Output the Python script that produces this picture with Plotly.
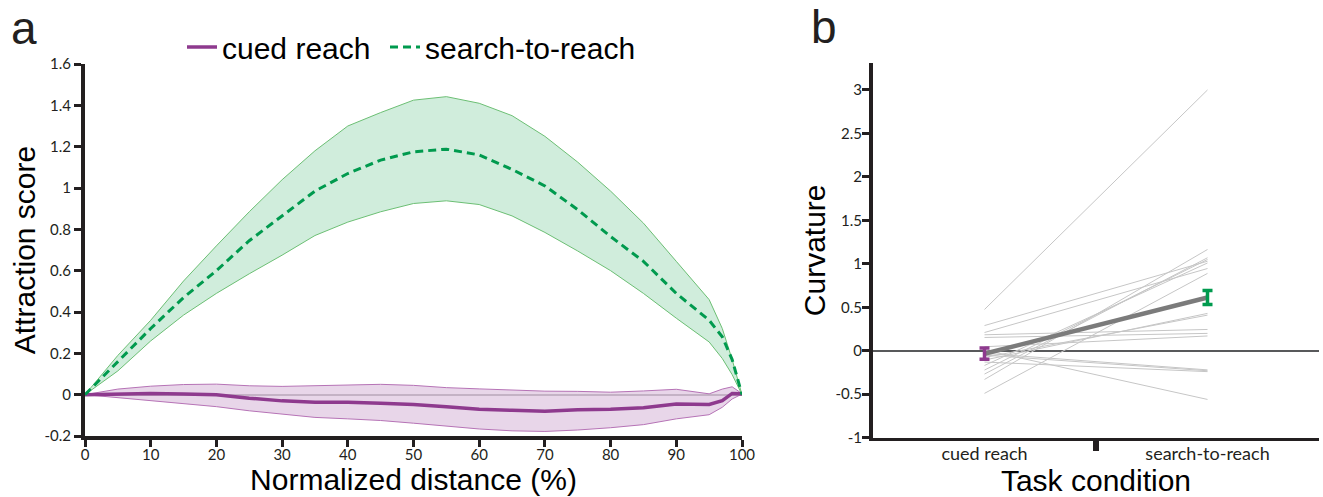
import plotly.graph_objects as go

# ---------------- Panel a data ----------------
dist = [0, 5, 10, 15, 20, 25, 30, 35, 40, 45, 50, 55, 60, 65, 70, 75, 80, 85, 90, 95, 97, 98.5, 100]

search_mean = [0, 0.16, 0.32, 0.47, 0.60, 0.745, 0.865, 0.985, 1.07, 1.135, 1.175, 1.188, 1.16, 1.09,
               1.01, 0.895, 0.765, 0.645, 0.49, 0.36, 0.28, 0.17, 0.0]
search_upper = [0, 0.19, 0.36, 0.55, 0.72, 0.885, 1.04, 1.18, 1.30, 1.365, 1.425, 1.442, 1.41, 1.35,
                1.25, 1.125, 0.985, 0.83, 0.645, 0.46, 0.32, 0.17, 0.0]
search_lower = [0, 0.115, 0.26, 0.385, 0.49, 0.585, 0.675, 0.77, 0.835, 0.885, 0.925, 0.938, 0.92, 0.865,
                0.785, 0.695, 0.60, 0.49, 0.37, 0.255, 0.175, 0.097, 0.0]

cued_mean = [0, 0.005, 0.006, 0.003, 0.0, -0.017, -0.03, -0.037, -0.037, -0.042, -0.047, -0.058, -0.07,
             -0.076, -0.08, -0.073, -0.071, -0.063, -0.045, -0.047, -0.029, 0.006, 0.004]
cued_upper = [0, 0.027, 0.041, 0.049, 0.051, 0.043, 0.04, 0.043, 0.048, 0.05, 0.045, 0.034, 0.028,
              0.022, 0.017, 0.016, 0.012, 0.018, 0.026, 0.004, 0.027, 0.038, 0.005]
cued_lower = [0, -0.015, -0.031, -0.046, -0.058, -0.078, -0.094, -0.11, -0.117, -0.125, -0.138, -0.151,
              -0.166, -0.175, -0.178, -0.171, -0.16, -0.145, -0.117, -0.097, -0.061, -0.021, 0.003]

a_yticks = [-0.2, 0, 0.2, 0.4, 0.6, 0.8, 1.0, 1.2, 1.4, 1.6]
a_yticktext = ["-0.2", "0", "0.2", "0.4", "0.6", "0.8", "1", "1.2", "1.4", "1.6"]
a_xticks = [0, 10, 20, 30, 40, 50, 60, 70, 80, 90, 100]

# ---------------- Panel b data ----------------
conditions = ["cued reach", "search-to-reach"]
subj_cued = [0.475, 0.29, 0.21, 0.184, 0.153, 0.046, -0.49, -0.33, -0.268, -0.222, -0.169,
             -0.107, -0.077, 0.008, -0.03, -0.05, -0.13]
subj_search = [3.0, 1.03, 0.946, 0.245, 0.20, 0.17, 0.89, 1.165, 1.07, 1.05, 1.01,
               0.43, 0.41, -0.56, -0.22, -0.23, -0.24]
group_mean = [-0.034, 0.613]
group_sem = [0.065, 0.08]
b_yticks = [-1, -0.5, 0, 0.5, 1, 1.5, 2, 2.5, 3]
b_yticktext = ["-1", "-0.5", "0", "0.5", "1", "1.5", "2", "2.5", "3"]

PURPLE = "#8e3a8e"
PURPLE_FILL = "rgba(222,196,224,0.7)"
PURPLE_EDGE = "#b673b6"
GREEN = "#009a4e"
GREEN_FILL = "rgba(196,232,211,0.8)"
GREEN_EDGE = "#6cbf74"
AX = "#231f20"

fig = go.Figure()

# green band
fig.add_trace(go.Scatter(x=dist, y=search_upper, mode="lines", line=dict(color=GREEN_EDGE, width=1),
                         showlegend=False, hoverinfo="skip", xaxis="x", yaxis="y"))
fig.add_trace(go.Scatter(x=dist, y=search_lower, mode="lines", line=dict(color=GREEN_EDGE, width=1),
                         fill="tonexty", fillcolor=GREEN_FILL, showlegend=False, hoverinfo="skip",
                         xaxis="x", yaxis="y"))
# purple band
fig.add_trace(go.Scatter(x=dist, y=cued_upper, mode="lines", line=dict(color=PURPLE_EDGE, width=1),
                         showlegend=False, hoverinfo="skip", xaxis="x", yaxis="y"))
fig.add_trace(go.Scatter(x=dist, y=cued_lower, mode="lines", line=dict(color=PURPLE_EDGE, width=1),
                         fill="tonexty", fillcolor=PURPLE_FILL, showlegend=False, hoverinfo="skip",
                         xaxis="x", yaxis="y"))
# means
fig.add_trace(go.Scatter(x=dist, y=cued_mean, mode="lines", name="cued reach", legend="legend",
                         line=dict(color=PURPLE, width=3.5), xaxis="x", yaxis="y"))
fig.add_trace(go.Scatter(x=dist, y=search_mean, mode="lines", name="search-to-reach", legend="legend2",
                         line=dict(color=GREEN, width=3, dash="8px,5px"), xaxis="x", yaxis="y"))

# panel b: individual subjects
for c, s in zip(subj_cued, subj_search):
    fig.add_trace(go.Scatter(x=[1, 2], y=[c, s], mode="lines", line=dict(color="#c6c6c6", width=1),
                             showlegend=False, hoverinfo="skip", xaxis="x2", yaxis="y2"))
# group mean line
fig.add_trace(go.Scatter(x=[1, 2], y=group_mean, mode="lines", line=dict(color="#7b7b7b", width=4.5),
                         showlegend=False, xaxis="x2", yaxis="y2"))
# error bars
for i, col in enumerate([PURPLE, GREEN]):
    fig.add_trace(go.Scatter(x=[i + 1], y=[group_mean[i]], mode="markers",
                             marker=dict(size=1, color="rgba(0,0,0,0)"),
                             error_y=dict(type="data", array=[group_sem[i]], color=col, thickness=3.5, width=5),
                             showlegend=False, xaxis="x2", yaxis="y2"))

# the page body margin is removed (see post_script), so the figure fills the window
W, H = 1323, 497


def fx(px):
    return px / W


def fy(py):
    return 1 - py / H


tickfont = dict(family="Lato, Open Sans, sans-serif", size=15, color=AX)
titlefont = dict(family="Liberation Sans, Arial, sans-serif", size=30, color="black")
legfont = dict(family="Liberation Sans, Arial, sans-serif", size=30, color="black")
panelfont = dict(family="Liberation Sans, Arial, sans-serif", size=46, color="#231f20")

fig.update_layout(
    width=W, height=H,
    margin=dict(l=0, r=0, t=0, b=0),
    paper_bgcolor="white", plot_bgcolor="white",
    showlegend=True,
    legend=dict(orientation="h", x=fx(182), y=fy(47), xanchor="left", yanchor="middle",
                font=legfont, bgcolor="rgba(0,0,0,0)"),
    legend2=dict(orientation="h", x=fx(385), y=fy(47), xanchor="left", yanchor="middle",
                 font=legfont, bgcolor="rgba(0,0,0,0)"),
    xaxis=dict(domain=[fx(85), fx(742)], range=[0, 100], tickvals=a_xticks, anchor="y",
               showline=True, linecolor=AX, linewidth=4, ticks="outside", ticklen=7, tickwidth=3,
               tickcolor=AX, tickfont=tickfont, showgrid=False, zeroline=False, automargin=False,
               ticklabelstandoff=-5,
               title=dict(text="Normalized distance (%)", font=titlefont, standoff=0)),
    yaxis=dict(domain=[fy(436), fy(64)], range=[-0.2, 1.6], tickvals=a_yticks, anchor="x",
               ticktext=a_yticktext, showline=True, linecolor=AX, linewidth=4, ticks="outside",
               ticklen=7, tickwidth=3, tickcolor=AX, tickfont=tickfont, showgrid=False,
               zeroline=True, zerolinecolor="#858585", zerolinewidth=2, automargin=False,
               title=dict(text="Attraction score", font=titlefont, standoff=1)),
    xaxis2=dict(domain=[fx(873), fx(1319)], range=[0.5, 2.5], tickvals=[1, 2], ticktext=conditions,
                anchor="y2",
                showline=True, linecolor=AX, linewidth=3, ticks="",
                tickfont=dict(family="Lato, Open Sans, sans-serif", size=18, color=AX),
                minor=dict(tickmode="array", tickvals=[1.5], ticks="outside", ticklen=10, tickwidth=6, tickcolor=AX),
                showgrid=False, zeroline=False, automargin=False, ticklabelstandoff=-2,
                title=dict(text="Task condition", font=titlefont, standoff=0)),
    yaxis2=dict(domain=[fy(437.7), fy(63)], range=[-1, 3.31], tickvals=b_yticks, anchor="x2",
                ticktext=b_yticktext, showline=True, linecolor=AX, linewidth=4, ticks="outside",
                ticklen=7, tickwidth=3, tickcolor=AX, tickfont=tickfont, showgrid=False,
                zeroline=True, zerolinecolor="#58595b", zerolinewidth=2, automargin=False,
                ticklabelstandoff=-3,
                title=dict(text="Curvature", font=titlefont, standoff=2)),
    annotations=[
        dict(text="a", x=fx(9), y=fy(28), xref="paper", yref="paper", xanchor="left", yanchor="middle",
             showarrow=False, font=panelfont),
        dict(text="b", x=fx(809), y=fy(27), xref="paper", yref="paper", xanchor="left", yanchor="middle",
             showarrow=False, font=panelfont),
    ],
)

fig.write_html("out.html", config={"displayModeBar": False},
               post_script="document.body.style.margin='0';")
